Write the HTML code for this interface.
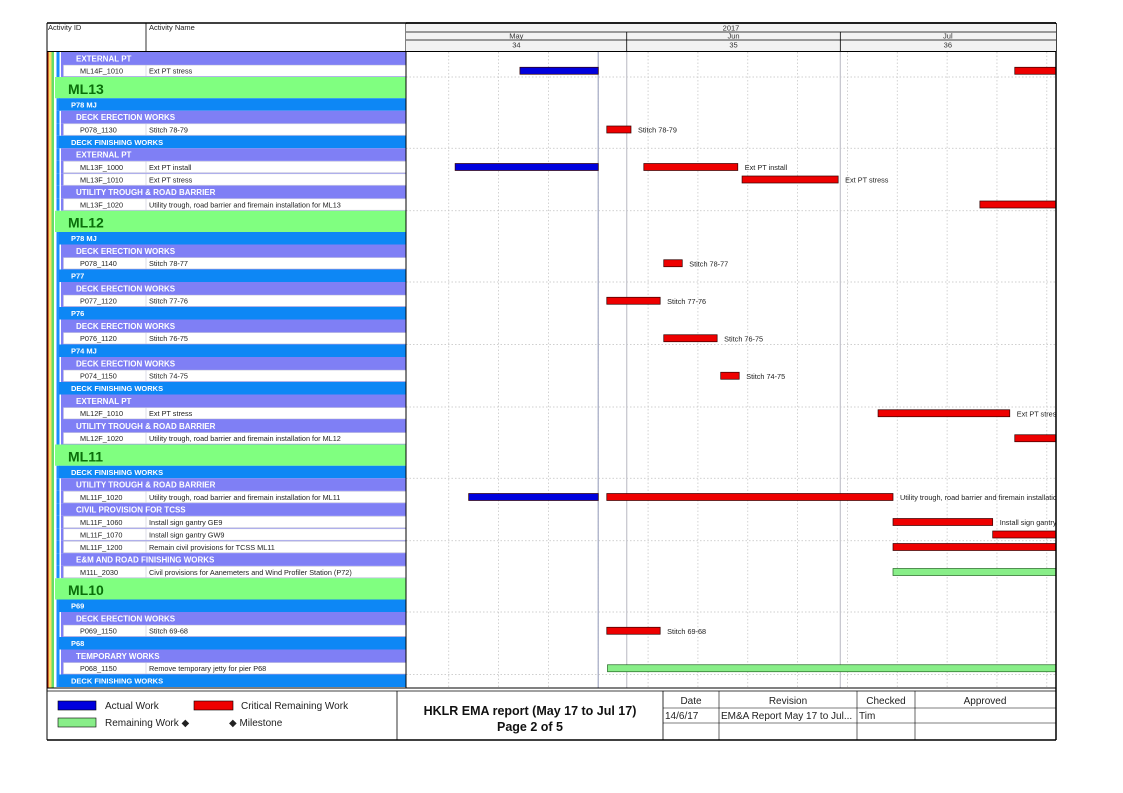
<!DOCTYPE html>
<html><head><meta charset="utf-8"><style>
html,body{margin:0;padding:0;background:#fff}
svg{display:block;font-family:"Liberation Sans",sans-serif}
</style></head><body>
<svg id="c" width="1123" height="793" viewBox="0 0 1123 793" xmlns="http://www.w3.org/2000/svg">
<defs><clipPath id="tl"><rect x="406" y="52" width="650" height="636"/></clipPath></defs>
<g id="rows"></g>
<g id="grid"></g>
<g id="bars" clip-path="url(#tl)"></g>
<g id="hdr">
 <rect x="47" y="23" width="1009" height="29" fill="#fff" stroke="none"/>
 <line x1="47" y1="23" x2="1056" y2="23" stroke="#000" stroke-width="1.5"/>
 <line x1="47" y1="23" x2="47" y2="740" stroke="#000" stroke-width="1"/>
 <line x1="146" y1="23" x2="146" y2="51" stroke="#000" stroke-width="0.8"/>
 <line x1="406" y1="23" x2="406" y2="688" stroke="#000" stroke-width="1"/>
 <line x1="1056" y1="23" x2="1056" y2="740" stroke="#000" stroke-width="1.5"/>
 <line x1="47" y1="51.5" x2="1056" y2="51.5" stroke="#000" stroke-width="1"/>
 <text x="48" y="30" font-size="7.5" fill="#222">Activity ID</text>
 <text x="149" y="30" font-size="7.5" fill="#222">Activity Name</text>
 <rect x="406" y="24" width="650" height="27" fill="#f2f2f2"/>
 <line x1="406" y1="32" x2="1056" y2="32" stroke="#000" stroke-width="0.8"/>
 <line x1="406" y1="40" x2="1056" y2="40" stroke="#000" stroke-width="0.8"/>
 <line x1="406" y1="51.5" x2="1056" y2="51.5" stroke="#000" stroke-width="1"/>
 <line x1="406" y1="23" x2="1056" y2="23" stroke="#000" stroke-width="1.5"/>
 <text x="731" y="30.5" font-size="7.5" text-anchor="middle" fill="#333">2017</text>
</g>
<g id="foot">
 <line x1="47" y1="688" x2="1056" y2="688" stroke="#000" stroke-width="1"/>
 <line x1="47" y1="691" x2="1056" y2="691" stroke="#000" stroke-width="0.8"/>
 <line x1="47" y1="740" x2="1056" y2="740" stroke="#000" stroke-width="1.5"/>
 <line x1="397" y1="691" x2="397" y2="740" stroke="#000" stroke-width="0.8"/>
 <line x1="663" y1="691" x2="663" y2="740" stroke="#000" stroke-width="0.8"/>
 <line x1="719" y1="691" x2="719" y2="740" stroke="#000" stroke-width="0.6"/>
 <line x1="857" y1="691" x2="857" y2="740" stroke="#000" stroke-width="0.6"/>
 <line x1="915" y1="691" x2="915" y2="740" stroke="#000" stroke-width="0.6"/>
 <line x1="663" y1="708" x2="1056" y2="708" stroke="#000" stroke-width="0.6"/>
 <line x1="663" y1="723" x2="1056" y2="723" stroke="#000" stroke-width="0.6"/>
 <g font-size="10" fill="#222">
  <rect x="58" y="701" width="38" height="9" fill="#0000dd" stroke="#000" stroke-width="0.6"/>
  <text x="105" y="709">Actual Work</text>
  <rect x="194" y="701" width="39" height="9" fill="#ee0000" stroke="#000" stroke-width="0.6"/>
  <text x="241" y="709">Critical Remaining Work</text>
  <rect x="58" y="718" width="38" height="9" fill="#88ee88" stroke="#000" stroke-width="0.6"/>
  <text x="105" y="726">Remaining Work ◆</text>
  <text x="229" y="726">◆ Milestone</text>
 </g>
 <text x="530" y="715" font-size="12.5" font-weight="bold" text-anchor="middle" fill="#111">HKLR EMA report (May 17 to Jul 17)</text>
 <text x="530" y="731" font-size="12.5" font-weight="bold" text-anchor="middle" fill="#111">Page 2 of 5</text>
 <g font-size="10" fill="#222">
  <text x="691" y="704" text-anchor="middle">Date</text>
  <text x="788" y="704" text-anchor="middle">Revision</text>
  <text x="886" y="704" text-anchor="middle">Checked</text>
  <text x="985" y="704" text-anchor="middle">Approved</text>
  <text x="665" y="719">14/6/17</text>
  <text x="721" y="719">EM&amp;A Report May 17 to Jul...</text>
  <text x="859" y="719">Tim</text>
 </g>
</g>
</svg>
<script>
const rowTypes=['p','d','g','b','p','d','b','p','d','d','p','d','g','b','p','d','b','p','d','b','p','d','b','p','d','b','p','d','p','d','g','b','p','d','p','d','d','d','p','d','g','b','p','d','b','p','d','b'];
const rowIds=['EXTERNAL PT','ML14F_1010','ML13','P78 MJ','DECK ERECTION WORKS','P078_1130','DECK FINISHING WORKS','EXTERNAL PT','ML13F_1000','ML13F_1010','UTILITY TROUGH & ROAD BARRIER','ML13F_1020','ML12','P78 MJ','DECK ERECTION WORKS','P078_1140','P77','DECK ERECTION WORKS','P077_1120','P76','DECK ERECTION WORKS','P076_1120','P74 MJ','DECK ERECTION WORKS','P074_1150','DECK FINISHING WORKS','EXTERNAL PT','ML12F_1010','UTILITY TROUGH & ROAD BARRIER','ML12F_1020','ML11','DECK FINISHING WORKS','UTILITY TROUGH & ROAD BARRIER','ML11F_1020','CIVIL PROVISION FOR TCSS','ML11F_1060','ML11F_1070','ML11F_1200','E&M AND ROAD FINISHING WORKS','M11L_2030','ML10','P69','DECK ERECTION WORKS','P069_1150','P68','TEMPORARY WORKS','P068_1150','DECK FINISHING WORKS'];
const rowNames=['','Ext PT stress','','','','Stitch 78-79','','','Ext PT install','Ext PT stress','','Utility trough, road barrier and firemain installation for ML13','','','','Stitch 78-77','','','Stitch 77-76','','','Stitch 76-75','','','Stitch 74-75','','','Ext PT stress','','Utility trough, road barrier and firemain installation for ML12','','','','Utility trough, road barrier and firemain installation for ML11','','Install sign gantry GE9','Install sign gantry GW9','Remain civil provisions for TCSS ML11','','Civil provisions for Aanemeters and Wind Profiler Station (P72)','','','','Stitch 69-68','','','Remove temporary jetty for pier P68',''];
const months=['May','Jun','Jul'];
const monthStart=[0,31,61];
const monthEnd=[31,61,91.2];
const weekNums=['34','35','36'];
const weekLines=[6,13,20,27,34,41,48,55,62,69,76,83,90];
const dataDate=27;
const barRow=[1,1,5,8,8,9,11,15,18,21,24,27,29,33,33,35,36,37,39,43,46];
const barStart=[16,85.5,28.2,6.9,33.4,47.2,80.6,36.2,28.2,36.2,44.2,66.3,85.5,8.8,28.2,68.4,82.4,68.4,68.4,28.2,28.3];
const barEnd=[27,95,31.6,27,46.6,60.7,95,38.8,35.7,43.7,46.8,84.8,95,27,68.4,82.4,95,95,95,35.7,95];
const barKind=['a','c','c','a','c','c','c','c','c','c','c','c','c','a','c','c','c','c','r','c','r'];
const barLabel=['','','Stitch 78-79','','Ext PT install','Ext PT stress','','Stitch 78-77','Stitch 77-76','Stitch 76-75','Stitch 74-75','Ext PT stress','','','Utility trough, road barrier and firemain installation for ML11','Install sign gantry GE9','','','','Stitch 69-68',''];

const NS='http://www.w3.org/2000/svg';
const X0=406,PXD=7.12,Y0=52,RH=12.5,GH=21.25;
function x(d){return X0+d*PXD;}
const rowTop=[];let yy=Y0;
for(const t of rowTypes){rowTop.push(yy);yy+=(t==='g'?GH:RH);}
function rowY(i){return rowTop[i];}
function rowH(i){return rowTypes[i]==='g'?GH:RH;}
function mk(tag,attrs,parent){const e=document.createElementNS(NS,tag);for(const k in attrs)e.setAttribute(k,attrs[k]);parent.appendChild(e);return e;}

const gR=document.getElementById('rows');
// left stripes
mk('rect',{x:47,y:52,width:1.5,height:636,fill:'#990000'},gR);
mk('rect',{x:48.5,y:52,width:3,height:636,fill:'#ffdd66'},gR);
mk('rect',{x:51.5,y:52,width:2.5,height:636,fill:'#66dd66'},gR);
rowTypes.forEach((t,i)=>{
  const y=rowY(i),h=rowH(i);
  const g=mk('g',{},gR);
  
  
  if(t==='g'){
    mk('rect',{x:55,y:y,width:351,height:h,fill:'#80ff80'},g);
    const tx=mk('text',{x:68,y:y+h-4.5,'font-size':14,'font-weight':'bold',fill:'#0a6e0a'},g);tx.textContent=rowIds[i];
  } else {
    mk('rect',{x:56.5,y:y,width:3,height:h,fill:'#1a8cff'},g);
    if(t==='b'){
      mk('rect',{x:59,y:y,width:347,height:h,fill:'#0d87f5'},g);
      const tx=mk('text',{x:71,y:y+9,'font-size':7.5,'font-weight':'bold',fill:'#fff'},g);tx.textContent=rowIds[i];
    } else if(t==='p'){
      mk('rect',{x:61,y:y,width:345,height:h,fill:'#7f7ff5'},g);
      const tx=mk('text',{x:76,y:y+9.3,'font-size':8,'font-weight':'bold',fill:'#fff'},g);tx.textContent=rowIds[i];
    } else {
      mk('rect',{x:61,y:y,width:345,height:h,fill:'#7f7ff5'},g);
      mk('rect',{x:63.5,y:y+0.6,width:342.5,height:h-1.2,fill:'#fff',stroke:'#c8c8d8','stroke-width':0.5},g);
      mk('line',{x1:146,y1:y+0.6,x2:146,y2:y+h-0.6,stroke:'#c8c8d8','stroke-width':0.6},g);
      const a=mk('text',{x:80,y:y+9,'font-size':7.3,fill:'#222'},g);a.textContent=rowIds[i];
      const b=mk('text',{x:149,y:y+9,'font-size':7.3,fill:'#222'},g);b.textContent=rowNames[i];
    }
  }
});

// header months
const gH=document.getElementById('hdr');
months.forEach((m,i)=>{
  const x1=x(monthStart[i]),x2=Math.min(x(monthEnd[i]),1056);
  const t=mk('text',{x:(x1+x2)/2,y:38.5,'font-size':7.5,'text-anchor':'middle',fill:'#333'},gH);
  
  
  t.textContent=m;
  const w=mk('text',{x:(x1+x2)/2,y:47.5,'font-size':7.5,'text-anchor':'middle',fill:'#333'},gH);
  
  
  w.textContent=weekNums[i];
  if(i>0) mk('line',{x1:x1,y1:32,x2:x1,y2:51,stroke:'#000','stroke-width':0.8},gH);
});

// grid
const gG=document.getElementById('grid');
weekLines.forEach(d=>{mk('line',{x1:x(d),y1:52,x2:x(d),y2:688,stroke:'#c8c8c8','stroke-width':0.8,'stroke-dasharray':'1.5,2'},gG);});
let cum=0;
rowTypes.forEach((t,i)=>{ if(i%5===1){const y=rowY(i)+rowH(i);mk('line',{x1:406,y1:y,x2:1056,y2:y,stroke:'#c0c0c0','stroke-width':0.8,'stroke-dasharray':'1.5,2'},gG);} });
[monthStart[1],monthStart[2]].forEach(d=>mk('line',{x1:x(d),y1:52,x2:x(d),y2:688,stroke:'#c4c4cc','stroke-width':1.2},gG));
const dd=mk('line',{x1:x(dataDate),y1:52,x2:x(dataDate),y2:688,stroke:'#aab0c8','stroke-width':1.3},gG);



// bars
const gB=document.getElementById('bars');
const fills={a:'#0000dd',c:'#ee0000',r:'#88ee88'};
barRow.forEach((r,i)=>{
  const y=rowY(r)+rowH(r)/2-3.5;
  const x1=x(barStart[i]),x2=x(barEnd[i]);
  const b=mk('rect',{x:x1,y:y,width:Math.max(x2-x1,0.5),height:7,fill:fills[barKind[i]],stroke:barKind[i]==='r'?'#226622':'#330000','stroke-width':0.7},gB);
  
  
  if(barLabel[i]){
    const t=mk('text',{x:x2+7,y:y+6.5,'font-size':7.3,fill:'#222'},gB);
    
    
    t.textContent=barLabel[i];
  }
});
</script>
</body></html>
